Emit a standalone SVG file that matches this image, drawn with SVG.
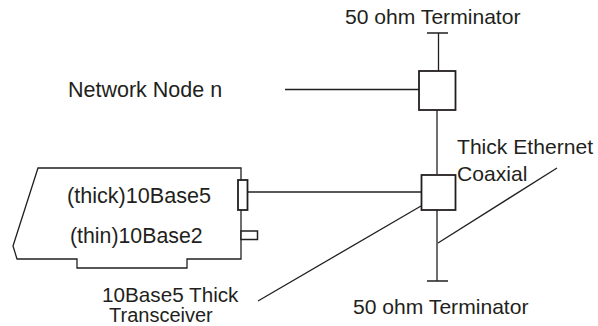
<svg xmlns="http://www.w3.org/2000/svg" width="598" height="326" viewBox="0 0 598 326">
<style>
text{font-family:"Liberation Sans",Arial,sans-serif;font-size:21.1px;fill:#231f20}
.l{fill:none;stroke:#231f20;stroke-width:1.3}
.b{fill:#fff;stroke:#231f20;stroke-width:1.8}
</style>
<rect width="598" height="326" fill="#fff"/>
<g id="connectors">
<path class="l" d="M427 33H448M438.500 33V71"/>
<path class="l" d="M285 89.500H419"/>
<path class="l" d="M437 110V174"/>
<path class="l" d="M247 192H421"/>
<path class="l" d="M437 210V281M427 281H448"/>
<path class="l" d="M438 243L557 168"/>
<path class="l" d="M258 301L421 206"/>
</g>
<g id="node-terminator-top"><text x="345" y="24">50 ohm Terminator</text></g>
<g id="node-terminator-bottom"><text x="353" y="314">50 ohm Terminator</text></g>
<g id="node-n"><text x="68" y="97" style="font-size:21.5px">Network Node n</text><rect class="b" x="419" y="71" width="36.500" height="39"/></g>
<g id="node-transceiver"><rect class="b" x="421.500" y="175" width="34" height="35"/></g>
<g id="label-coax"><text x="457" y="154">Thick Ethernet</text><text x="457" y="181">Coaxial</text></g>
<g id="label-transceiver"><text x="102" y="302" style="font-size:20.7px">10Base5 Thick</text><text x="109" y="322" style="font-size:20px">Transceiver</text></g>
<g id="node-card">
<path class="l" d="M241 168H38L13 246L17 259H77V268H187V259H241V168Z"/>
<rect class="b" x="238" y="180" width="9.500" height="30"/>
<rect x="241" y="231" width="16.500" height="8.500" fill="#fff" stroke="#231f20" stroke-width="1.500"/>
<text x="67" y="203" style="font-size:21.6px">(thick)10Base5</text>
<text x="70" y="243" style="font-size:21.3px">(thin)10Base2</text>
</g>
</svg>
